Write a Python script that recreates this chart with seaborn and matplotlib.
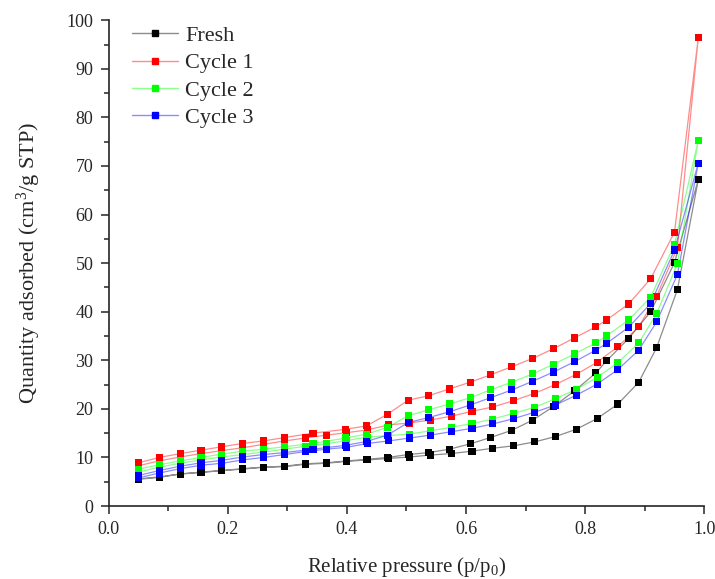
import numpy as np
import pandas as pd
import matplotlib
matplotlib.use('Agg')
import matplotlib.pyplot as plt
from matplotlib.lines import Line2D
from matplotlib.colors import to_rgba
from matplotlib.ticker import MultipleLocator, FormatStrFormatter
import seaborn as sns

# ── Data ──────────────────────────────────────────────────────────────────────
SERIES = ['Fresh', 'Cycle 1', 'Cycle 2', 'Cycle 3']
COLORS = {'Fresh': '#000000', 'Cycle 1': '#ff0000', 'Cycle 2': '#00ff00', 'Cycle 3': '#0000ff'}

# adsorption branch (shared relative pressures)
P_ADS = [0.05, 0.085, 0.12, 0.155, 0.19, 0.225, 0.26, 0.295, 0.33, 0.365, 0.40, 0.435,
         0.47, 0.505, 0.54, 0.575, 0.61, 0.645, 0.68, 0.715, 0.75, 0.785, 0.82, 0.855,
         0.89, 0.92, 0.955, 0.99]
ADS_FRESH = [5.5, 5.9, 6.6, 6.9, 7.3, 7.6, 8.0, 8.1, 8.6, 8.8, 9.2, 9.5, 9.8, 10.1,
             10.5, 10.8, 11.3, 11.9, 12.4, 13.2, 14.3, 15.8, 18.0, 21.0, 25.5, 32.6, 44.6, 67.2]
ADS_C1 = [8.3, 9.3, 10.1, 10.8, 11.4, 12.0, 12.7, 13.4, 14.0, 14.6, 15.1, 15.7, 16.7, 17.1,
          17.7, 18.5, 19.5, 20.4, 21.7, 23.2, 25.0, 27.1, 29.6, 32.8, 36.9, 43.2, 53.2, 96.5]
ADS_C2 = [7.0, 8.0, 8.8, 9.5, 10.1, 10.6, 11.1, 11.7, 12.3, 12.8, 13.5, 14.2, 14.5, 14.8,
          15.5, 16.2, 17.0, 17.9, 19.1, 20.3, 22.1, 24.0, 26.5, 29.5, 33.6, 39.6, 49.9, 75.3]
ADS_C3 = [5.8, 6.8, 7.7, 8.4, 8.8, 9.5, 10.0, 10.6, 11.2, 11.7, 12.1, 12.9, 13.4, 14.0,
          14.6, 15.3, 16.0, 16.9, 18.0, 19.3, 20.8, 22.8, 25.1, 28.1, 32.1, 37.9, 47.7, 70.6]

# desorption branch
P_DES_FRESH = [0.95, 0.91, 0.873, 0.836, 0.818, 0.782, 0.747, 0.712, 0.677, 0.641, 0.607,
               0.572, 0.537, 0.503, 0.468, 0.433, 0.40, 0.365, 0.33, 0.295, 0.26, 0.225,
               0.19, 0.155, 0.12, 0.085, 0.05]
DES_FRESH = [50.1, 40.0, 34.5, 29.9, 27.4, 23.7, 20.5, 17.7, 15.6, 14.1, 12.8, 11.7, 11.0,
             10.6, 10.0, 9.6, 9.3, 8.9, 8.7, 8.2, 8.0, 7.7, 7.3, 7.0, 6.6, 6.0, 5.6]
P_DES = [0.95, 0.91, 0.873, 0.836, 0.818, 0.782, 0.747, 0.712, 0.677, 0.641, 0.607, 0.572,
         0.537, 0.503, 0.468, 0.433, 0.398, 0.343, 0.295, 0.26, 0.225, 0.19, 0.155, 0.12,
         0.085, 0.05]
DES_C1 = [56.4, 46.8, 41.6, 38.3, 36.9, 34.6, 32.4, 30.4, 28.7, 27.0, 25.5, 24.1, 22.7,
          21.8, 18.9, 16.5, 15.8, 15.0, 14.1, 13.4, 12.9, 12.2, 11.5, 10.8, 10.0, 8.9]
DES_C2 = [53.9, 43.0, 38.3, 35.0, 33.6, 31.3, 29.2, 27.2, 25.5, 23.9, 22.3, 21.0, 19.8,
          18.6, 16.2, 14.8, 14.0, 12.9, 12.2, 11.7, 11.3, 10.7, 10.0, 9.3, 8.5, 7.6]
DES_C3 = [52.7, 41.7, 36.8, 33.5, 32.1, 29.7, 27.6, 25.7, 23.9, 22.3, 20.8, 19.4, 18.2,
          17.2, 14.6, 13.3, 12.5, 11.7, 11.0, 10.6, 10.1, 9.4, 8.9, 8.2, 7.3, 6.3]

BRANCHES = {
    'Fresh':   (ADS_FRESH, P_DES_FRESH, DES_FRESH),
    'Cycle 1': (ADS_C1, P_DES, DES_C1),
    'Cycle 2': (ADS_C2, P_DES, DES_C2),
    'Cycle 3': (ADS_C3, P_DES, DES_C3),
}

rows = []
for name in SERIES:
    ads, p_des, des = BRANCHES[name]
    for p, q in zip(P_ADS + p_des, ads + des):
        rows.append({'series': name, 'p': p, 'q': q})
df = pd.DataFrame(rows)

# ── Style ─────────────────────────────────────────────────────────────────────
sns.set_style('ticks')
plt.rcParams.update({
    'font.family': ['Liberation Serif', 'DejaVu Serif'],
    'mathtext.fontset': 'custom',
    'mathtext.rm': 'Liberation Serif',
    'mathtext.it': 'Liberation Serif:italic',
    'xtick.direction': 'out',
    'ytick.direction': 'out',
})

LINE_ALPHA = 0.45

fig = plt.figure(figsize=(7.15, 5.79), dpi=100)
ax = fig.add_axes([0.152, 0.126, 0.833, 0.839])

for name in SERIES:
    sub = df[df['series'] == name]
    sns.lineplot(data=sub, x='p', y='q', sort=False, estimator=None,
                 color=to_rgba(COLORS[name], LINE_ALPHA), lw=0.9, ax=ax, legend=False)
sns.scatterplot(data=df, x='p', y='q', hue='series', palette=COLORS, marker='s', s=26,
                edgecolor='none', linewidth=0, ax=ax, legend=False, zorder=3)

ax.set_xlim(0, 1.0)
ax.set_ylim(0, 100)
ax.xaxis.set_major_locator(MultipleLocator(0.2))
ax.xaxis.set_minor_locator(MultipleLocator(0.1))
ax.yaxis.set_major_locator(MultipleLocator(10))
ax.yaxis.set_minor_locator(MultipleLocator(5))
ax.xaxis.set_major_formatter(FormatStrFormatter('%.1f'))
ax.tick_params(which='major', length=6, width=1.1, labelsize=13, pad=5)
ax.tick_params(which='minor', length=3.5, width=1.1)
for s in ('top', 'right'):
    ax.spines[s].set_visible(False)
for s in ('left', 'bottom'):
    ax.spines[s].set_linewidth(1.2)

ax.set_xlabel('Relative pressure (p/p$_0$)', fontsize=15, labelpad=12)
ax.set_ylabel('Quantity adsorbed (cm$^3$/g STP)', fontsize=16, labelpad=17)

handles = [Line2D([0], [0], color=to_rgba(COLORS[n], LINE_ALPHA), lw=1.0, marker='s',
                  markersize=4.5, markerfacecolor=COLORS[n], markeredgecolor=COLORS[n])
           for n in SERIES]
ax.legend(handles, SERIES, loc='upper left', bbox_to_anchor=(0.005, 1.03), frameon=False,
          fontsize=16, handlelength=2.1, labelspacing=0.3, handletextpad=0.3)

fig.savefig('out.png', dpi=100)
